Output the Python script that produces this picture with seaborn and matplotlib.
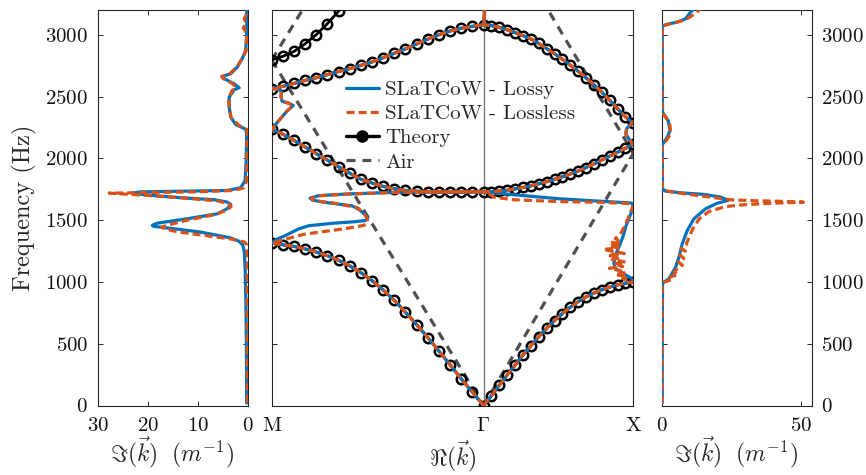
import matplotlib
matplotlib.use("Agg")
import matplotlib.pyplot as plt
import seaborn as sns
from matplotlib.lines import Line2D

# ---------------------------------------------------------------- data
# wave-vector samples (units of pi/a): M = -sqrt(2), Gamma = 0, X = 1
K_MG = [-1.414, -1.340, -1.265, -1.191, -1.117, -1.042, -0.968, -0.893, -0.819, -0.744,
        -0.670, -0.595, -0.521, -0.447, -0.372, -0.298, -0.223, -0.149, -0.074, 0.0]
K_GX = [0.0, 0.053, 0.105, 0.158, 0.211, 0.263, 0.316, 0.368, 0.421, 0.474,
        0.526, 0.579, 0.632, 0.684, 0.737, 0.789, 0.842, 0.895, 0.947, 1.0]

# theory bands (Hz)
TH_B1_MG = [1312, 1300, 1287, 1267, 1242, 1212, 1175, 1130, 1075, 1010,
            935, 850, 755, 655, 550, 440, 330, 216, 108, 0]
TH_B2_MG = [2235, 2195, 2145, 2092, 2038, 1985, 1932, 1880, 1830, 1800,
            1773, 1753, 1740, 1733, 1730, 1729, 1728, 1728, 1728, 1728]
TH_B3_MG = [2563, 2582, 2606, 2630, 2652, 2677, 2702, 2726, 2752, 2780,
            2814, 2850, 2886, 2925, 2965, 3000, 3030, 3052, 3068, 3080]
TH_B4_MG = [2798, 2825, 2865, 2927, 3000, 3090, 3190, 3300]
TH_B1_GX = [0, 80, 163, 246, 328, 408, 484, 556, 624, 687,
            744, 795, 840, 878, 910, 937, 958, 976, 990, 1000]
TH_B2_GX = [1728, 1730, 1735, 1742, 1752, 1764, 1778, 1794, 1811, 1830,
            1851, 1873, 1898, 1925, 1955, 1986, 2018, 2050, 2082, 2112]
TH_B3_GX = [3080, 3074, 3060, 3040, 3017, 2993, 2967, 2929, 2888, 2846,
            2802, 2754, 2704, 2652, 2596, 2536, 2470, 2401, 2336, 2283]

# air lines (end points)
AIR_MG_K = [-1.414, 0.0]
AIR_MG_F = [2795, 0]
AIR_MG_FOLD_F = [2795, 5590]
AIR_GX_K = [0.0, 1.0]
AIR_GX_F = [0, 2040]
AIR_GX_FOLD_F = [4080, 2040]

# SLaTCoW real part, (k, f) in frequency order
RE_MG_BAND1 = [(0.0, 0), (-0.074, 108), (-0.149, 216), (-0.223, 330), (-0.298, 440),
               (-0.372, 550), (-0.447, 655), (-0.521, 755), (-0.595, 850), (-0.670, 935),
               (-0.744, 1010), (-0.819, 1075), (-0.893, 1130), (-0.968, 1175),
               (-1.042, 1212), (-1.117, 1242), (-1.191, 1267), (-1.265, 1287),
               (-1.340, 1300), (-1.414, 1314)]
RE_MG_GAP1_LOSSY = [(-1.38, 1345), (-1.321, 1376), (-1.232, 1430), (-1.165, 1455),
                    (-1.01, 1474), (-0.85, 1488), (-0.787, 1497), (-0.772, 1518),
                    (-0.787, 1540), (-0.83, 1585), (-0.876, 1615), (-1.054, 1643),
                    (-1.143, 1662), (-1.158, 1678), (-1.10, 1698), (-0.90, 1712),
                    (-0.565, 1726), (-0.25, 1728), (0.0, 1729)]
RE_MG_GAP1_LOSSLESS = [(-1.33, 1343), (-1.20, 1385), (-1.05, 1410), (-0.92, 1432),
                       (-0.80, 1457), (-0.775, 1480), (-0.775, 1505), (-0.79, 1540),
                       (-0.84, 1600), (-1.00, 1638), (-1.13, 1657), (-1.15, 1675),
                       (-1.10, 1697), (-0.90, 1711), (-0.56, 1724), (-0.25, 1728),
                       (0.0, 1729)]
RE_MG_BAND2 = [(-0.223, 1729), (-0.372, 1731), (-0.447, 1734), (-0.521, 1740),
               (-0.595, 1753), (-0.670, 1773), (-0.744, 1800), (-0.819, 1830),
               (-0.893, 1880), (-0.968, 1932), (-1.042, 1985), (-1.117, 2038),
               (-1.191, 2092), (-1.265, 2145), (-1.340, 2195), (-1.414, 2237)]
RE_MG_GAP2 = [(-1.37, 2300), (-1.31, 2385), (-1.27, 2428), (-1.30, 2445), (-1.345, 2462),
              (-1.352, 2500), (-1.35, 2545), (-1.38, 2560), (-1.414, 2565)]
RE_MG_BAND3 = [(-1.340, 2582), (-1.265, 2606), (-1.191, 2630), (-1.117, 2652),
               (-1.042, 2677), (-0.968, 2702), (-0.893, 2726), (-0.819, 2752),
               (-0.744, 2780), (-0.670, 2814), (-0.595, 2850), (-0.521, 2886),
               (-0.447, 2925), (-0.372, 2965), (-0.298, 3000), (-0.223, 3030),
               (-0.149, 3052), (-0.074, 3068), (0.0, 3080)]
RE_MG_TOP = [(0.006, 3140), (0.01, 3260)]

RE_GX_BAND1 = [(0.0, 0), (0.053, 80), (0.105, 163), (0.158, 246), (0.211, 328),
               (0.263, 408), (0.316, 484), (0.368, 556), (0.421, 624), (0.474, 687),
               (0.526, 744), (0.579, 795), (0.632, 840), (0.684, 878), (0.737, 910),
               (0.789, 937), (0.842, 958), (0.895, 976), (0.947, 990), (1.0, 1000)]
RE_GX_GAP1_LOSSY = [(0.985, 1030), (0.93, 1070), (0.88, 1110), (0.87, 1150),
                    (0.885, 1230), (0.91, 1300), (0.935, 1380), (0.95, 1450),
                    (0.975, 1525), (0.995, 1590), (1.0, 1630), (0.98, 1639),
                    (0.75, 1655), (0.513, 1672), (0.25, 1700), (0.025, 1726), (0.0, 1728)]
RE_GX_GAP1_LOSSLESS = [(0.97, 1010), (0.93, 1025), (0.96, 1040), (0.88, 1060),
                       (0.95, 1075), (0.90, 1095), (0.84, 1110), (0.93, 1125),
                       (0.87, 1145), (0.95, 1160), (0.86, 1180), (0.91, 1200),
                       (0.83, 1215), (0.94, 1230), (0.85, 1250), (0.80, 1262),
                       (0.90, 1275), (0.84, 1290), (0.92, 1305), (0.86, 1320),
                       (0.90, 1335), (0.88, 1350), (0.92, 1400), (0.945, 1460),
                       (0.97, 1530), (0.99, 1590), (1.0, 1625), (0.95, 1636),
                       (0.75, 1645), (0.5, 1650), (0.2, 1665), (0.07, 1686),
                       (0.03, 1715), (0.0, 1728)]
RE_GX_BAND2 = [(0.053, 1730), (0.105, 1735), (0.158, 1742), (0.211, 1752), (0.263, 1764),
               (0.316, 1778), (0.368, 1794), (0.421, 1811), (0.474, 1830), (0.526, 1851),
               (0.579, 1873), (0.632, 1898), (0.684, 1925), (0.737, 1955), (0.789, 1986),
               (0.842, 2018), (0.895, 2050), (0.947, 2082), (1.0, 2112)]
RE_GX_GAP2 = [(0.975, 2150), (0.95, 2195), (0.955, 2240), (0.98, 2270), (1.0, 2283)]
RE_GX_BAND3 = [(0.947, 2336), (0.895, 2401), (0.842, 2470), (0.789, 2536), (0.737, 2596),
               (0.684, 2652), (0.632, 2704), (0.579, 2754), (0.526, 2802), (0.474, 2846),
               (0.421, 2888), (0.368, 2929), (0.316, 2967), (0.263, 2993), (0.211, 3017),
               (0.158, 3040), (0.105, 3060), (0.053, 3074), (0.0, 3080)]
RE_GX_TOP = [(0.004, 3120), (0.008, 3260)]

# SLaTCoW imaginary part (Im k [1/m], f [Hz])
IM_MG_LOSSY = [(0.2, 20), (0.25, 400), (0.35, 800), (0.5, 1100), (0.7, 1250), (1.0, 1300),
               (1.8, 1330), (3.5, 1357), (9.4, 1403), (14.7, 1430), (18.7, 1449),
               (19.1, 1457), (18.1, 1475), (12.1, 1511), (6.1, 1551), (4.1, 1592),
               (3.4, 1627), (4.1, 1646), (6.7, 1665), (13.4, 1681), (19.4, 1700),
               (23.0, 1718), (21.4, 1729), (12.7, 1734), (4.1, 1740), (1.4, 1762),
               (0.5, 1821), (0.3, 1983), (0.2, 2199), (0.4, 2235), (2.4, 2274),
               (3.4, 2333), (3.7, 2414), (3.7, 2495), (2.7, 2555), (1.7, 2571),
               (2.7, 2603), (4.7, 2644), (5.1, 2663), (3.4, 2684), (2.1, 2738),
               (1.1, 2806), (0.4, 2873), (0.2, 3008), (0.2, 3200)]
IM_MG_LOSSLESS = [(0.05, 20), (0.1, 600), (0.1, 1200), (0.2, 1300), (0.6, 1322), (3.0, 1345),
                  (9.0, 1378), (14.0, 1405), (16.5, 1428), (17.2, 1443), (16.0, 1460),
                  (12.0, 1500), (6.5, 1545), (4.2, 1580), (3.3, 1610), (3.7, 1632),
                  (6.0, 1655), (13.0, 1680), (20.0, 1700), (27.7, 1718), (20.0, 1723),
                  (10.0, 1729), (3.0, 1740), (0.8, 1760), (0.2, 1820), (0.1, 2230),
                  (1.8, 2268), (3.3, 2330), (3.7, 2410), (3.8, 2490), (3.1, 2550),
                  (2.3, 2572), (3.0, 2603), (4.8, 2643), (5.2, 2662), (3.6, 2684),
                  (2.2, 2738), (1.1, 2806), (0.3, 2873), (0.2, 3010), (0.9, 3055),
                  (0.3, 3095), (0.7, 3130), (0.2, 3170), (0.1, 3200)]
IM_GX_LOSSY = [(0.2, 20), (0.2, 500), (0.3, 990), (2.6, 1025), (5.0, 1119), (6.2, 1200),
               (7.4, 1308), (9.2, 1416), (11.6, 1511), (15.8, 1592), (20.0, 1637),
               (23.9, 1659), (21.2, 1686), (15.2, 1708), (6.8, 1721), (1.4, 1734),
               (0.3, 1753), (0.2, 2110), (2.0, 2171), (3.0, 2225), (2.3, 2306),
               (0.3, 2373), (0.2, 3070), (2.0, 3085), (5.6, 3102), (8.6, 3129),
               (10.4, 3183), (11.6, 3210)]
IM_GX_LOSSLESS = [(0.1, 20), (0.1, 500), (0.1, 990), (1.5, 1005), (4.0, 1020), (3.0, 1040),
                  (6.0, 1060), (4.5, 1080), (5.5, 1105), (7.5, 1135), (6.0, 1160),
                  (8.0, 1190), (6.5, 1220), (8.5, 1250), (7.0, 1270), (8.8, 1300),
                  (9.8, 1360), (11.2, 1430), (13.5, 1510), (17.0, 1570), (23.0, 1610),
                  (30.0, 1625), (40.0, 1637), (51.0, 1645), (45.0, 1651), (35.0, 1656),
                  (25.0, 1664), (16.0, 1690), (8.0, 1714), (2.0, 1735), (0.2, 1755),
                  (0.1, 2110), (1.5, 2140), (3.3, 2200), (2.8, 2290), (0.5, 2360),
                  (0.1, 2380), (0.1, 3070), (3.0, 3088), (7.0, 3110), (10.0, 3140),
                  (12.5, 3180), (14.0, 3210)]

Y_TICKS = [0, 500, 1000, 1500, 2000, 2500, 3000]
LEFT_XTICKS = [30, 20, 10, 0]
RIGHT_XTICKS = [0, 50]
MID_XTICKS = [-1.414, 0.0, 1.0]
MID_XTICKLABELS = ["M", r"$\Gamma$", "X"]
LEGEND_LABELS = ["SLaTCoW - Lossy", "SLaTCoW - Lossless", "Theory", "Air"]

# ---------------------------------------------------------------- style
sns.set_style("ticks")
plt.rcParams.update({
    "font.family": "serif",
    "font.serif": ["cmr10"],
    "mathtext.fontset": "cm",
    "axes.formatter.use_mathtext": True,
    "axes.unicode_minus": False,
    "axes.edgecolor": "#262626",
    "axes.linewidth": 0.8,
    "xtick.color": "#262626",
    "ytick.color": "#262626",
    "xtick.labelcolor": "#111111",
    "ytick.labelcolor": "#111111",
    "xtick.direction": "in",
    "ytick.direction": "in",
    "xtick.major.size": 3.5,
    "ytick.major.size": 3.5,
    "xtick.major.width": 0.7,
    "ytick.major.width": 0.7,
    "xtick.labelsize": 15,
    "ytick.labelsize": 15,
})

BLUE = "#0072BD"
ORANGE = "#D95319"
GRAY = "#505050"
LW = 2.3
DASH_OR = (0, (2.5, 1.3))
DASH_AIR = (0, (2.8, 2.2))

W, H = 866, 475
fig = plt.figure(figsize=(W / 100, H / 100), dpi=100)
bottom = 1 - 405.5 / H
height = (405.5 - 10) / H
axL = fig.add_axes([97.7 / W, bottom, 150 / W, height])
axM = fig.add_axes([271.7 / W, bottom, 361.6 / W, height])
axR = fig.add_axes([661.7 / W, bottom, 150 / W, height])


def draw(ax, pts, **kw):
    a = [p[0] for p in pts]
    b = [p[1] for p in pts]
    sns.lineplot(x=a, y=b, sort=False, estimator=None, ax=ax, **kw)


lossy_kw = dict(color=BLUE, lw=LW, zorder=4)
lossless_kw = dict(color=ORANGE, lw=LW, linestyle=DASH_OR, zorder=5)

# ---------------------------------------------------------------- middle panel
axM.axvline(0.0, color="#7a7a7a", lw=1.0, zorder=1)

for f_air_k, f_air in [(AIR_MG_K, AIR_MG_F), (AIR_MG_K, AIR_MG_FOLD_F),
                       (AIR_GX_K, AIR_GX_F), (AIR_GX_K, AIR_GX_FOLD_F)]:
    sns.lineplot(x=f_air_k, y=f_air, sort=False, estimator=None, ax=axM,
                 color=GRAY, lw=LW, linestyle=DASH_AIR, zorder=2)

theory_kw = dict(color="black", lw=2.0, marker="o", markersize=6.8,
                 markerfacecolor="none", markeredgecolor="black",
                 markeredgewidth=1.8, zorder=3)
for mg, gx in [(TH_B1_MG, TH_B1_GX), (TH_B2_MG, TH_B2_GX), (TH_B3_MG, TH_B3_GX)]:
    ks = K_MG + K_GX[1:]
    fs = mg + gx[1:]
    sns.lineplot(x=ks, y=fs, sort=False, estimator=None, ax=axM, **theory_kw)
sns.lineplot(x=K_MG[:len(TH_B4_MG)], y=TH_B4_MG, sort=False, estimator=None,
             ax=axM, **theory_kw)

mg_lossy = RE_MG_BAND1 + RE_MG_GAP1_LOSSY + RE_MG_BAND2 + RE_MG_GAP2 + RE_MG_BAND3 + RE_MG_TOP
mg_lossless = RE_MG_BAND1 + RE_MG_GAP1_LOSSLESS + RE_MG_BAND2 + RE_MG_GAP2 + RE_MG_BAND3 + RE_MG_TOP
gx_lossy = RE_GX_BAND1 + RE_GX_GAP1_LOSSY + RE_GX_BAND2 + RE_GX_GAP2 + RE_GX_BAND3 + RE_GX_TOP
gx_lossless = RE_GX_BAND1 + RE_GX_GAP1_LOSSLESS + RE_GX_BAND2 + RE_GX_GAP2 + RE_GX_BAND3 + RE_GX_TOP
draw(axM, mg_lossy, **lossy_kw)
draw(axM, gx_lossy, **lossy_kw)
draw(axM, mg_lossless, **lossless_kw)
draw(axM, gx_lossless, **lossless_kw)

axM.set_xlim(-1.4142, 1.0)
axM.set_ylim(0, 3200)
axM.set_xticks(MID_XTICKS)
axM.set_xticklabels(MID_XTICKLABELS)
axM.set_yticks(Y_TICKS)
axM.tick_params(axis="y", left=True, right=True, labelleft=False)
axM.tick_params(axis="x", top=True, bottom=True, pad=8)
axM.set_xlabel(r"$\Re(\vec{k})$", fontsize=17, labelpad=3)
axM.set_ylabel("")

handles = [
    Line2D([], [], color=BLUE, lw=LW),
    Line2D([], [], color=ORANGE, lw=LW, linestyle=DASH_OR),
    Line2D([], [], color="black", lw=2.4, marker="o", markersize=8,
           markerfacecolor="black", markeredgecolor="black"),
    Line2D([], [], color=GRAY, lw=LW, linestyle=DASH_AIR),
]
axM.legend(handles, LEGEND_LABELS, loc="upper left", bbox_to_anchor=(0.205, 0.822),
           frameon=False, fontsize=15, handlelength=1.6, handletextpad=0.3,
           labelspacing=0.27, borderaxespad=0, borderpad=0)

# ---------------------------------------------------------------- left panel
draw(axL, IM_MG_LOSSY, **lossy_kw)
draw(axL, IM_MG_LOSSLESS, **lossless_kw)
axL.set_xlim(30, 0)
axL.set_ylim(0, 3200)
axL.set_xticks(LEFT_XTICKS)
axL.set_yticks(Y_TICKS)
axL.tick_params(axis="y", left=True, right=True, pad=7)
axL.tick_params(axis="x", top=True, bottom=True, pad=8)
axL.set_ylabel("Frequency (Hz)", fontsize=17.5, labelpad=6)
axL.set_xlabel(r"$\Im(\vec{k})\ \ (m^{-1})$", fontsize=17, labelpad=0)

# ---------------------------------------------------------------- right panel
draw(axR, IM_GX_LOSSY, **lossy_kw)
draw(axR, IM_GX_LOSSLESS, **lossless_kw)
axR.set_xlim(0, 54)
axR.set_ylim(0, 3200)
axR.set_xticks(RIGHT_XTICKS)
axR.set_yticks(Y_TICKS)
axR.yaxis.tick_right()
axR.tick_params(axis="y", left=True, right=True, labelleft=False, labelright=True, pad=7)
axR.tick_params(axis="x", top=True, bottom=True, pad=8)
axR.set_xlabel(r"$\Im(\vec{k})\ \ (m^{-1})$", fontsize=17, labelpad=0)
axR.set_ylabel("")

for ax in (axL, axM, axR):
    for s in ax.spines.values():
        s.set_visible(True)
        s.set_color("#262626")
        s.set_linewidth(0.8)

fig.savefig("out.png", dpi=100)
